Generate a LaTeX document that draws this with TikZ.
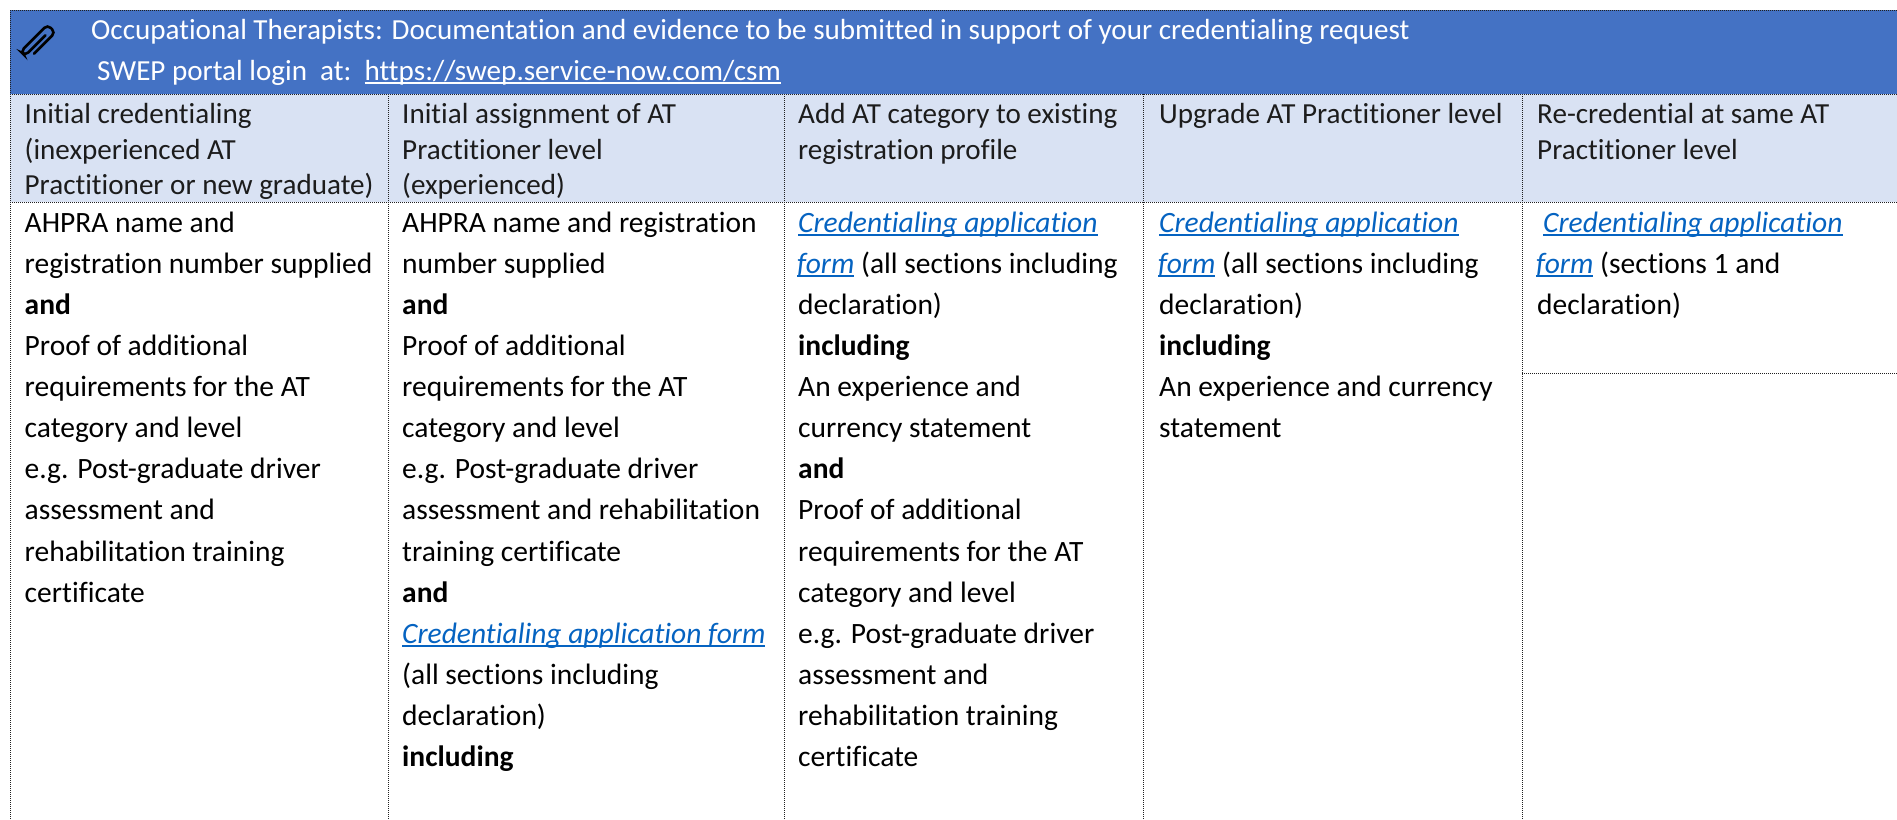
\documentclass[tikz,border=0pt]{standalone}
\usepackage{fontspec}
\setmainfont{Carlito}[Ligatures=NoCommon]
\definecolor{bandblue}{HTML}{4472C4}
\definecolor{headfill}{HTML}{D9E2F3}
\definecolor{linkblue}{HTML}{0563C1}
\definecolor{gridgrey}{HTML}{202020}
\definecolor{headtext}{HTML}{1C1C1C}
\newcommand{\ulnk}[2][2pt]{\leavevmode\setbox0\hbox{#2}\rlap{\rule[-3.8pt]{\wd0}{#1}}\box0}
\newcommand{\lnk}[1]{\textcolor{linkblue}{\ulnk{\textit{#1}}}}
\newcommand{\fst}{\rule{0pt}{30pt}}
\tikzset{
  gridline/.style={draw=gridgrey,line width=1pt,dash pattern=on 1pt off 1pt},
  titletext/.style={anchor=base west,inner sep=0pt,text=white,font=\fontsize{29.1}{32}\selectfont},
  headcell/.style={anchor=north west,inner sep=0pt,align=left,text=headtext,font=\fontsize{29.1}{35.3}\selectfont},
  bodycell/.style={anchor=north west,inner sep=0pt,align=left,text=black,font=\fontsize{29.5}{41.13}\selectfont},
  clipwire/.style={draw=black,line width=2.6pt,line cap=round,rounded corners=4.5pt}
}
\begin{document}
\begin{tikzpicture}[x=1pt,y=-1pt]
\useasboundingbox (0,0) rectangle (1897,819);
\fill[white] (0,0) rectangle (1897,819);
\fill[bandblue] (10,10) rectangle (1897,94);
\fill[headfill] (10,94) rectangle (1897,202);
% grid
\draw[gridline] (10,10) -- (1897,10);
\draw[gridline] (10,94) -- (1897,94);
\draw[gridline] (10,202) -- (1897,202);
\draw[gridline] (1522,373) -- (1897,373);
\draw[gridline] (10,10) -- (10,819);
\draw[gridline] (388,94) -- (388,819);
\draw[gridline] (784,94) -- (784,819);
\draw[gridline] (1143,94) -- (1143,819);
\draw[gridline] (1522,94) -- (1522,819);
% paperclip
\begin{scope}[shift={(38,42)},rotate=45]
\draw[clipwire] (10,0.5) -- (-19,0.5) -- (-19,-5.5) -- (19,-5.5) -- (19,5.5) -- (-11,5.5);
\end{scope}
% title
\node[titletext] (title) at (91,39) {Occupational Therapists: Documentation and evidence to be submitted in support of your credentialing request};
\node[titletext] (portal) at (97,80) {SWEP portal login\ \ at:\ \ \ulnk{https://swep.service-now.com/csm}};
% headers
\node[headcell] (h1) at (24.5,93.5) {\fst Initial credentialing\\(inexperienced AT\\Practitioner or new graduate)};
\node[headcell] (h2) at (402,93.5) {\fst Initial assignment of AT\\Practitioner level\\(experienced)};
\node[headcell] (h3) at (798,93.5) {\fst Add AT category to existing\\registration profile};
\node[headcell] (h4) at (1159,93.5) {\fst Upgrade AT Practitioner level};
\node[headcell] (h5) at (1537,93.5) {\fst Re-credential at same AT\\Practitioner level};
% bodies
\node[bodycell] (b1) at (24.5,201.8) {\fst AHPRA name and\\registration number supplied\\\textbf{and}\\Proof of additional\\requirements for the AT\\category and level\\e.g. Post-graduate driver\\assessment and\\rehabilitation training\\certificate};
\node[bodycell] (b2) at (402,201.8) {\fst AHPRA name and registration\\number supplied\\\textbf{and}\\Proof of additional\\requirements for the AT\\category and level\\e.g. Post-graduate driver\\assessment and rehabilitation\\training certificate\\\textbf{and}\\\lnk{Credentialing application form}\\(all sections including\\declaration)\\\textbf{including}};
\node[bodycell] (b3) at (798,201.8) {\fst\lnk{Credentialing application}\\\hspace{-1pt}\lnk{form} (all sections including\\declaration)\\\textbf{including}\\An experience and\\currency statement\\\textbf{and}\\Proof of additional\\requirements for the AT\\category and level\\e.g. Post-graduate driver\\assessment and\\rehabilitation training\\certificate};
\node[bodycell] (b4) at (1159,201.8) {\fst\lnk{Credentialing application}\\\hspace{-1pt}\lnk{form} (all sections including\\declaration)\\\textbf{including}\\An experience and currency\\statement};
\node[bodycell] (b5) at (1537,201.8) {\fst\hspace{6pt}\lnk{Credentialing application}\\\hspace{-1pt}\lnk{form} (sections 1 and\\declaration)};
\end{tikzpicture}
\end{document}
